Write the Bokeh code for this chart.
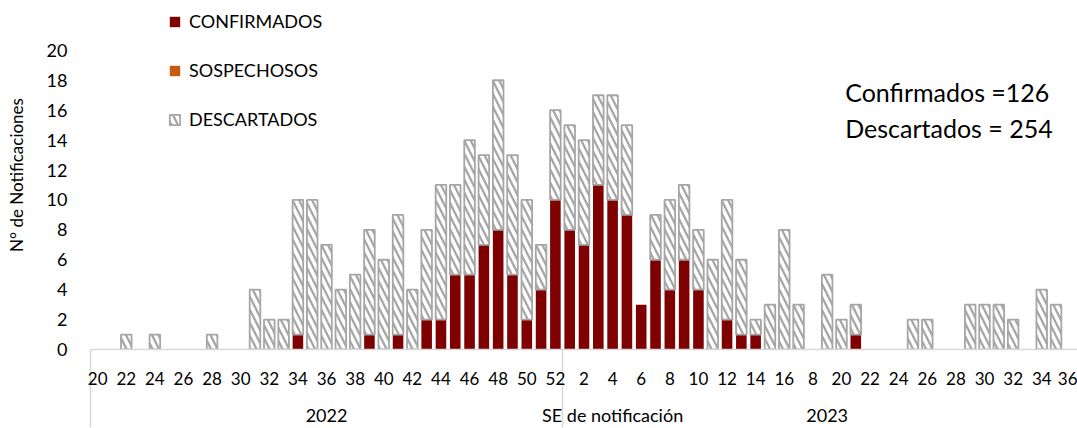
from bokeh.core.properties import field
from bokeh.embed import file_html
from bokeh.models import (ColumnDataSource, FixedTicker, Label, Legend,
                          LegendItem, LinearAxis, Range1d)
from bokeh.plotting import figure
from bokeh.resources import INLINE

# Semanas epidemiológicas (SE) de notificación
semanas_2022 = list(range(20, 53))
semanas_2023 = list(range(1, 37))

# Casos por SE, 2022 (SE 20 a 52)
confirmados_2022 = [0, 0, 0, 0, 0, 0, 0, 0, 0, 0, 0, 0, 0, 0, 1, 0, 0,
                    0, 0, 1, 0, 1, 0, 2, 2, 5, 5, 7, 8, 5, 2, 4, 10]
sospechosos_2022 = [0, 0, 0, 0, 0, 0, 0, 0, 0, 0, 0, 0, 0, 0, 0, 0, 0,
                    0, 0, 0, 0, 0, 0, 0, 0, 0, 0, 0, 0, 0, 0, 0, 0]
descartados_2022 = [0, 0, 1, 0, 1, 0, 0, 0, 1, 0, 0, 4, 2, 2, 9, 10, 7,
                    4, 5, 7, 6, 8, 4, 6, 9, 6, 9, 6, 10, 8, 8, 3, 6]

# Casos por SE, 2023 (SE 1 a 36)
confirmados_2023 = [8, 7, 11, 10, 9, 3, 6, 4, 6, 4, 0, 2, 1, 1, 0, 0, 0, 0,
                    0, 0, 1, 0, 0, 0, 0, 0, 0, 0, 0, 0, 0, 0, 0, 0, 0, 0]
sospechosos_2023 = [0, 0, 0, 0, 0, 0, 0, 0, 0, 0, 0, 0, 0, 0, 0, 0, 0, 0,
                    0, 0, 0, 0, 0, 0, 0, 0, 0, 0, 0, 0, 0, 0, 0, 0, 0, 0]
descartados_2023 = [7, 7, 6, 7, 6, 0, 3, 6, 5, 4, 6, 8, 5, 1, 3, 8, 3, 0,
                    5, 2, 2, 0, 0, 0, 2, 2, 0, 0, 3, 3, 3, 2, 0, 4, 3, 0]

# Etiquetas del eje de semanas (una cada dos SE)
etiquetas_eje = ["20", "22", "24", "26", "28", "30", "32", "34", "36", "38",
                 "40", "42", "44", "46", "48", "50", "52",
                 "2", "4", "6", "8", "10", "12", "14", "16", "8", "20", "22",
                 "24", "26", "28", "30", "32", "34", "36"]

anios = ["2022", "2023"]
titulo_x = "SE de notificación"
titulo_y = "N° de Notificaciones"
resumen = ["Confirmados =126", "Descartados  = 254"]

FONT = "Lato"
ROJO = "#7F0000"
NARANJA = "#C55A11"
GRIS = "#A6A6A6"
GRIS_EJE = "#D9D9D9"

semanas = semanas_2022 + semanas_2023
n = len(semanas)
descartados = descartados_2022 + descartados_2023
src = ColumnDataSource(dict(
    x=list(range(n)),
    confirmados=confirmados_2022 + confirmados_2023,
    sospechosos=sospechosos_2022 + sospechosos_2023,
    descartados=descartados,
    # sin contorno en las semanas sin descartados
    alfa_linea=[1 if d > 0 else 0 for d in descartados],
))

# El área de datos llega hasta el borde superior para alojar la leyenda
p = figure(width=1077, height=428, output_backend="svg", toolbar_location=None,
           x_range=Range1d(-0.5, n - 0.5), y_range=Range1d(0, 350 / 15),
           min_border_left=90, min_border_right=0, min_border_top=0,
           min_border_bottom=78)
p.outline_line_color = None
p.xgrid.visible = False
p.ygrid.visible = False
p.background_fill_color = "white"
p.border_fill_color = "white"

r_conf, r_sosp, r_desc = p.vbar_stack(
    ["confirmados", "sospechosos", "descartados"], x="x", width=0.74,
    source=src,
    fill_color=[ROJO, NARANJA, "white"],
    line_color=[None, None, GRIS],
    line_alpha=[1, 1, field("alfa_linea")],
    line_width=[0, 0, 1.8],
    hatch_pattern=[None, None, "\\"],
    hatch_color=[None, None, GRIS],
    hatch_weight=[1, 1, 2.3],
    hatch_scale=[12, 12, 13],
)

# Eje X: etiquetas cada dos semanas; separadores de año como ticks menores
ticks_x = [i for i, s in enumerate(semanas) if s % 2 == 0]
limite_anio = len(semanas_2022) - 0.5
xa = p.xaxis[0]
xa.ticker = FixedTicker(ticks=ticks_x, minor_ticks=[-0.5, limite_anio])
xa.major_label_overrides = {t: lab for t, lab in zip(ticks_x, etiquetas_eje)}
xa.major_tick_out = 0
xa.major_tick_in = 0
xa.minor_tick_in = 0
xa.minor_tick_out = 78
xa.minor_tick_line_color = GRIS_EJE
xa.minor_tick_line_width = 1.5
xa.axis_line_color = GRIS_EJE
xa.axis_line_width = 1.5
xa.major_label_standoff = -56
xa.major_label_text_font = FONT
xa.major_label_text_font_size = "17px"
xa.major_label_text_color = "black"

# Segunda fila del eje: años y título
pos_fila2 = [16.0, 36.0, 51.0]
xa2 = LinearAxis(ticker=FixedTicker(ticks=pos_fila2),
                 major_label_overrides=dict(zip(pos_fila2,
                                                [anios[0], titulo_x, anios[1]])))
xa2.axis_line_color = None
xa2.major_tick_line_color = None
xa2.minor_tick_line_color = None
xa2.major_label_standoff = 10
xa2.major_label_text_font = FONT
xa2.major_label_text_font_size = "18px"
xa2.major_label_text_color = "black"
p.add_layout(xa2, "below")

ya = p.yaxis[0]
ya.ticker = FixedTicker(ticks=list(range(0, 21, 2)))
ya.axis_line_color = None
ya.major_tick_line_color = None
ya.minor_tick_line_color = None
ya.major_label_standoff = 17
ya.major_label_text_font = FONT
ya.major_label_text_font_size = "18px"
ya.major_label_text_color = "black"
ya.axis_label = titulo_y
ya.axis_label_text_font = FONT
ya.axis_label_text_font_size = "17px"
ya.axis_label_text_font_style = "normal"
ya.axis_label_text_color = "black"
ya.axis_label_standoff = 17

for y, t in zip([17.2, 14.84], resumen):
    p.add_layout(Label(x=52.26, y=y, text=t, text_font=FONT,
                       text_font_size="25px", text_color="black",
                       text_align="left", text_baseline="alphabetic"))

# La muestra de DESCARTADOS toma su estilo de una semana con casos
idx_muestra = descartados.index(max(descartados))
legend = Legend(items=[LegendItem(label="CONFIRMADOS", renderers=[r_conf],
                                  index=idx_muestra),
                       LegendItem(label="SOSPECHOSOS", renderers=[r_sosp],
                                  index=idx_muestra),
                       LegendItem(label="DESCARTADOS", renderers=[r_desc],
                                  index=idx_muestra)],
                location=(78, 219), orientation="vertical",
                glyph_width=13, glyph_height=13, label_height=22,
                spacing=27, padding=0, margin=0, label_standoff=8,
                label_text_font=FONT, label_text_font_size="18px",
                label_text_color="black", border_line_color=None,
                background_fill_alpha=0)
p.add_layout(legend, "center")

open("out.html", "w").write(file_html(p, INLINE))
